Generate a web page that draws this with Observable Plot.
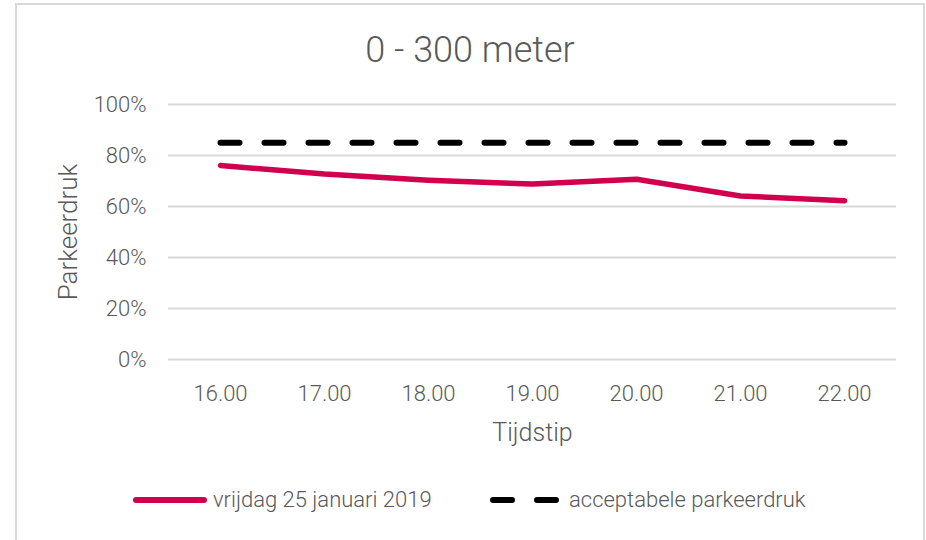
<!DOCTYPE html>
<html><head><meta charset="utf-8">
<script src="https://cdn.jsdelivr.net/npm/d3@7"></script>
<script src="https://cdn.jsdelivr.net/npm/@observablehq/plot@0.6"></script>
<style>
body{margin:0;background:#fff;font-family:Roboto,"Liberation Sans",sans-serif;font-weight:300;color:#595959;width:926px;height:540px;overflow:hidden;position:relative}
#frame{position:absolute;left:15px;top:3px;width:910px;height:560px;border:2px solid #d9d9d9;border-bottom:none;box-sizing:border-box}
#title{position:absolute;left:14px;width:912px;top:28px;text-align:center;font-size:36px;line-height:44px;white-space:nowrap}
#chart{position:absolute;left:0;top:80px}
.leg{position:absolute;top:487px;display:flex;align-items:center;font-size:22px;line-height:26px;white-space:nowrap}
.leg svg{display:block}
</style></head>
<body>
<div id="frame"></div>
<div id="title">0 - 300 meter</div>
<div id="chart"></div>
<div class="leg" id="leg1" style="left:132px"></div>
<div class="leg" id="leg2" style="left:490px"></div>
<script>
const hours = [16, 17, 18, 19, 20, 21, 22];
const hourLabels = ["16.00", "17.00", "18.00", "19.00", "20.00", "21.00", "22.00"];
const friday = [0.761, 0.727, 0.703, 0.688, 0.707, 0.641, 0.623];
const acceptable = 0.85;
const yTicks = [0, 0.2, 0.4, 0.6, 0.8, 1.0];
const seriesNames = ["vrijdag 25 januari 2019", "acceptabele parkeerdruk"];
const red = "#d1004f";

const fridayData = hours.map((h, i) => ({hour: h, value: friday[i]}));
const accData = hours.map(h => ({hour: h, value: acceptable}));

const chart = Plot.plot({
  width: 926,
  height: 370,
  marginLeft: 168,
  marginRight: 30,
  marginTop: 24,
  marginBottom: 91,
  style: {fontFamily: "Roboto, 'Liberation Sans', sans-serif", fontWeight: 300, color: "#595959", background: "transparent", overflow: "visible"},
  x: {domain: [15.5, 22.5]},
  y: {domain: [0, 1]},
  marks: [
    Plot.ruleY(yTicks, {stroke: "#d9d9d9", strokeWidth: 2}),
    Plot.axisY({ticks: yTicks, tickFormat: d => Math.round(d * 100) + "%", tickSize: 0, tickPadding: 22, fontSize: 22, label: null}),
    Plot.axisX({ticks: hours, tickFormat: d => hourLabels[hours.indexOf(d)], tickSize: 0, tickPadding: 26, fontSize: 22, label: null}),
    Plot.line(accData, {x: "hour", y: "value", stroke: "#000", strokeWidth: 6, strokeLinecap: "round", strokeDasharray: "19,25"}),
    Plot.line(fridayData, {x: "hour", y: "value", stroke: red, strokeWidth: 5.5, strokeLinecap: "round", strokeLinejoin: "round"}),
    Plot.text(["Parkeerdruk"], {text: d => d, frameAnchor: "left", textAnchor: "middle", dx: -100, rotate: -90, fontSize: 26, fill: "#595959"}),
    Plot.text(["Tijdstip"], {text: d => d, frameAnchor: "bottom", dy: 81, fontSize: 25, fill: "#595959"})
  ]
});
document.getElementById("chart").appendChild(chart);

document.getElementById("leg1").innerHTML =
  `<svg width="76" height="8"><line x1="4" y1="4" x2="72" y2="4" stroke="${red}" stroke-width="6" stroke-linecap="round"/></svg><span style="margin-left:5px">${seriesNames[0]}</span>`;
document.getElementById("leg2").innerHTML =
  `<svg width="70" height="8"><line x1="3" y1="4" x2="67" y2="4" stroke="#000" stroke-width="6" stroke-linecap="round" stroke-dasharray="19,25"/></svg><span style="margin-left:9px">${seriesNames[1]}</span>`;
</script>
</body></html>
